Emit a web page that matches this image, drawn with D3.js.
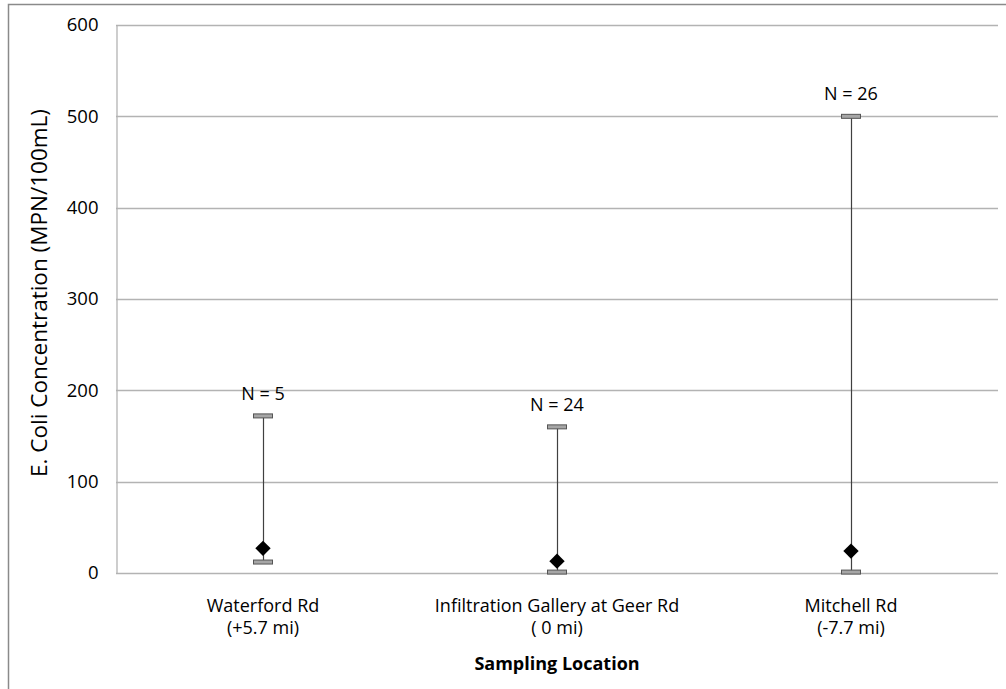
<!DOCTYPE html>
<html lang="en">
<head>
    <meta charset="UTF-8">
    <title>E. Coli Concentration</title>
</head>
<script src="https://cdn.jsdelivr.net/npm/d3@7"></script>
<style>
    body { margin: 0; background: #fff; }
    svg { font-family: "Open Sans", "Liberation Sans", sans-serif; }
</style>
<body>
    <div id="graphic"></div>
</body>
<script>
    // data
    var locations = ['Waterford Rd', 'Infiltration Gallery at Geer Rd', 'Mitchell Rd'];
    var distances = ['(+5.7 mi)', '( 0 mi)', '(-7.7 mi)'];
    var maxValues = [172, 160, 500];
    var minValues = [12, 1, 1];
    var meanValues = [27, 13, 24];
    var counts = [5, 24, 26];
    var yTicks = [0, 100, 200, 300, 400, 500, 600];

    var width = 1006;
    var height = 689;
    var margin = { top: 25, right: 8, bottom: 116, left: 116 };

    var data = locations.map(function(name, i) {
        return { name: name, dist: distances[i], max: maxValues[i], min: minValues[i], mean: meanValues[i], n: counts[i] };
    });

    var svg = d3.select('#graphic')
                .append('svg')
                .attr('width', width)
                .attr('height', height);

    // outer frame (top + left only visible)
    svg.append('path')
        .attr('d', 'M8.5,' + height + 'V4.5H' + width)
        .attr('fill', 'none')
        .attr('stroke', '#8a8a8a')
        .attr('stroke-width', 1.5);

    var x = d3.scaleBand()
        .domain(locations)
        .range([margin.left, width - margin.right]);

    var y = d3.scaleLinear()
        .domain([0, 600])
        .range([height - margin.bottom, margin.top]);

    // gridlines
    svg.append('g')
        .selectAll('line')
        .data(yTicks)
        .join('line')
        .attr('x1', margin.left)
        .attr('x2', width - margin.right)
        .attr('y1', d => Math.round(y(d)) + 0.5)
        .attr('y2', d => Math.round(y(d)) + 0.5)
        .attr('stroke', '#b3b3b3')
        .attr('stroke-width', 1.3);

    // y axis
    var yAxis = svg.append('g')
        .attr('transform', 'translate(' + (margin.left + 0.5) + ',0)')
        .call(d3.axisLeft(y).tickValues(yTicks).tickSize(0).tickPadding(18));
    yAxis.select('.domain').attr('stroke', '#b3b3b3').attr('stroke-width', 1.3);
    yAxis.selectAll('text').attr('font-size', 18.5).attr('fill', '#000')
        .attr('font-family', '"Open Sans", sans-serif');

    // x axis labels
    var xLabels = svg.append('g')
        .selectAll('text')
        .data(data)
        .join('text')
        .attr('x', d => x(d.name) + x.bandwidth() / 2)
        .attr('y', 612)
        .attr('text-anchor', 'middle')
        .attr('font-size', 18)
        .attr('fill', '#000');
    xLabels.append('tspan').text(d => d.name);
    xLabels.append('tspan')
        .attr('x', d => x(d.name) + x.bandwidth() / 2)
        .attr('dy', 22)
        .text(d => d.dist);

    // range lines
    var cx = d => x(d.name) + x.bandwidth() / 2;
    svg.append('g')
        .selectAll('line')
        .data(data)
        .join('line')
        .attr('x1', d => Math.round(cx(d)) + 0.5)
        .attr('x2', d => Math.round(cx(d)) + 0.5)
        .attr('y1', d => y(d.max))
        .attr('y2', d => y(d.min))
        .attr('stroke', '#404040')
        .attr('stroke-width', 1.2);

    // caps
    var capW = 19, capH = 4;
    svg.append('g')
        .selectAll('rect')
        .data(data.flatMap(d => [{ c: cx(d), v: d.max }, { c: cx(d), v: d.min }]))
        .join('rect')
        .attr('x', d => d.c - capW / 2)
        .attr('y', d => y(d.v) - capH / 2)
        .attr('width', capW)
        .attr('height', capH)
        .attr('fill', '#a6a6a6')
        .attr('stroke', '#555')
        .attr('stroke-width', 1);

    // mean diamonds
    svg.append('g')
        .selectAll('path')
        .data(data)
        .join('path')
        .attr('d', d3.symbol().type(d3.symbolDiamond2).size(150))
        .attr('transform', d => 'translate(' + cx(d) + ',' + y(d.mean) + ')')
        .attr('fill', '#000');

    // N labels
    svg.append('g')
        .selectAll('text')
        .data(data)
        .join('text')
        .attr('x', d => cx(d))
        .attr('y', d => y(d.max) - 16)
        .attr('text-anchor', 'middle')
        .attr('font-size', 18)
        .attr('fill', '#000')
        .text(d => 'N = ' + d.n);

    // axis titles
    svg.append('text')
        .attr('transform', 'translate(47,' + ((margin.top + height - margin.bottom) / 2 - 6) + ') rotate(-90)')
        .attr('text-anchor', 'middle')
        .attr('font-size', 22.5)
        .attr('fill', '#000')
        .text('E. Coli Concentration (MPN/100mL)');

    svg.append('text')
        .attr('x', (margin.left + width - margin.right) / 2)
        .attr('y', 670)
        .attr('text-anchor', 'middle')
        .attr('font-size', 18)
        .attr('font-weight', 'bold')
        .attr('fill', '#000')
        .text('Sampling Location');
</script>
</html>
